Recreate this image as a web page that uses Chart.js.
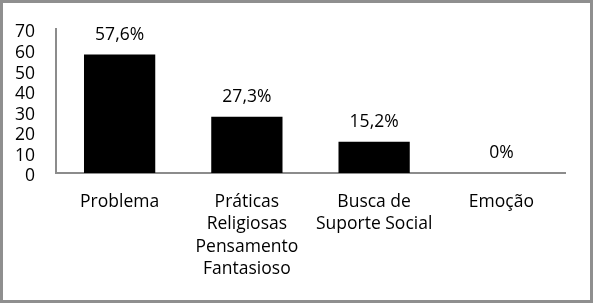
<!DOCTYPE html>
<html lang="pt">
<head>
    <meta charset="UTF-8">
    <title>Estratégias de enfrentamento</title>
    <script src="https://cdn.jsdelivr.net/npm/chart.js"></script>
</head>
<style>
    body {
        margin: 0;
        background: #fff;
    }
    .chart-container {
        position: absolute;
        left: 0;
        top: 0;
        width: 593px;
        height: 303px;
        box-sizing: border-box;
        border: 3px solid #8f8f8f;
    }
</style>
<body>
<div class="chart-container">
    <canvas id="barChart" width="587" height="297"></canvas>
</div>

<script>
    var categories = ['Problema', ['Práticas', 'Religiosas', 'Pensamento', 'Fantasioso'], ['Busca de', 'Suporte Social'], 'Emoção'];
    var values = [57.6, 27.3, 15.2, 0];
    var valueLabels = ['57,6%', '27,3%', '15,2%', '0%'];
    var yTicks = [0, 10, 20, 30, 40, 50, 60, 70];

    var font = { family: '"Open Sans", sans-serif', size: 17.5, lineHeight: 1.27 };

    // draws the percentage above each bar
    var valueLabelPlugin = {
        id: 'valueLabels',
        afterDatasetsDraw: function (chart) {
            var ctx = chart.ctx;
            var meta = chart.getDatasetMeta(0);
            ctx.save();
            ctx.font = font.size + 'px ' + font.family;
            ctx.fillStyle = '#000';
            ctx.textAlign = 'center';
            ctx.textBaseline = 'alphabetic';
            meta.data.forEach(function (bar, i) {
                ctx.fillText(valueLabels[i], bar.x, bar.y - 15);
            });
            ctx.restore();
        }
    };

    var ctx = document.getElementById('barChart').getContext('2d');
    var myChart = new Chart(ctx, {
        type: 'bar',
        data: {
            labels: categories,
            datasets: [{
                data: values,
                backgroundColor: '#000',
                borderWidth: 0,
                barPercentage: 1,
                categoryPercentage: 0.56
            }]
        },
        options: {
            responsive: false,
            animation: false,
            plugins: {
                legend: { display: false },
                tooltip: { enabled: false }
            },
            layout: {
                padding: { left: 0, right: 25, top: 26, bottom: 0 }
            },
            scales: {
                x: {
                    grid: { display: false, drawTicks: false },
                    border: { color: '#8c8c8c', width: 2 },
                    ticks: {
                        color: '#000',
                        font: font,
                        padding: 18,
                        maxRotation: 0,
                        autoSkip: false
                    },
                    afterFit: function (scale) { scale.height = 127; }
                },
                y: {
                    min: 0,
                    max: 70,
                    grid: { display: false, drawTicks: false },
                    border: { color: '#8c8c8c', width: 2 },
                    afterBuildTicks: function (scale) {
                        scale.ticks = yTicks.map(function (v) { return { value: v }; });
                    },
                    ticks: {
                        color: '#000',
                        font: font,
                        padding: 21,
                        labelOffset: 3.5,
                        autoSkip: false,
                        stepSize: 10
                    },
                    afterFit: function (scale) {
                        scale.width = 53;
                        // tick padding is only meant horizontally here
                        scale.paddingTop = 10;
                        scale.paddingBottom = 10;
                    }
                }
            }
        },
        plugins: [valueLabelPlugin]
    });
</script>
</body>
</html>
